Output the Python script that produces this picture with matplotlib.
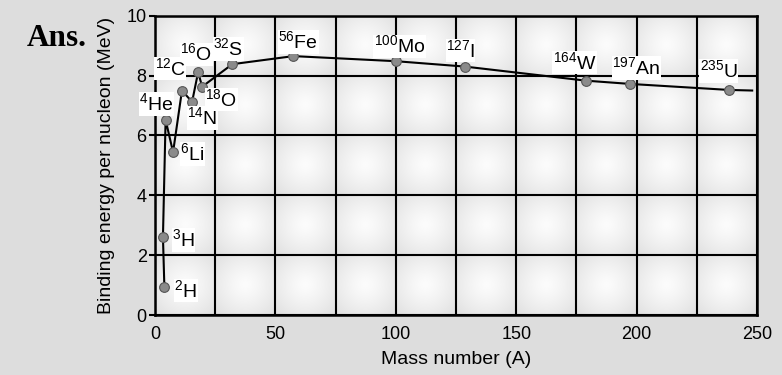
import numpy as np
import matplotlib.pyplot as plt

# Binding energy per nucleon vs mass number
mass_number = [3.9, 3.3, 4.4, 7.5, 11.2, 15.4, 17.9, 19.6, 32.1, 57.5, 100.0, 128.7, 178.9, 197.4, 238.3]
binding_energy = [0.92, 2.61, 6.52, 5.44, 7.50, 7.12, 8.11, 7.63, 8.38, 8.65, 8.48, 8.30, 7.83, 7.72, 7.52]
mass_labels = ['2', '3', '4', '6', '12', '14', '16', '18', '32', '56', '100', '127', '164', '197', '235']
element_labels = ['H', 'H', 'He', 'Li', 'C', 'N', 'O', 'O', 'S', 'Fe', 'Mo', 'I', 'W', 'An', 'U']

# curve keeps going a little past the last nucleus
tail_x = [248.0]
tail_y = [7.50]

# label placement (pixels from the marker) and anchor side
label_offsets = [(10, -3, 'left'), (9, -3, 'left'), (8, 16, 'right'), (7, -2, 'left'),
                 (4, 22, 'right'), (-5, -16, 'left'), (-18, 18, 'left'), (3, -13, 'left'),
                 (-19, 15, 'left'), (-15, 14, 'left'), (-22, 15, 'left'), (-19, 16, 'left'),
                 (-33, 18, 'left'), (-18, 16, 'left'), (-29, 19, 'left')]

plt.rcParams['font.family'] = ['Liberation Sans', 'DejaVu Sans']

fig = plt.figure(figsize=(7.82, 3.75), dpi=100, facecolor='#dddddd')
ax = fig.add_axes([155 / 782, 1 - 315 / 375, 602 / 782, 299.3 / 375])

# soft radial shading inside each grid cell
nx, ny = 10, 5
res = 60
u = np.linspace(-1, 1, res)
cx, cy = np.meshgrid(u, u)
cell = 0.985 - 0.07 * np.sqrt(cx ** 2 + cy ** 2) ** 1.3
shade = np.tile(cell, (ny, nx))
ax.imshow(shade, extent=(0, 250, 0, 10), cmap='gray', vmin=0, vmax=1,
          aspect='auto', interpolation='bilinear', zorder=0)

ax.set_xlim(0, 250)
ax.set_ylim(0, 10)
ax.set_xticks(np.arange(0, 251, 25))
ax.set_xticklabels(['0', '', '50', '', '100', '', '150', '', '200', '', '250'])
ax.set_yticks(np.arange(0, 11, 2))
ax.grid(True, color='black', linewidth=1.5, zorder=1)
ax.set_axisbelow(False)
for s in ax.spines.values():
    s.set_linewidth(1.8)
    s.set_zorder(5)
ax.tick_params(axis='x', length=0, labelsize=13, pad=8)
ax.tick_params(axis='y', length=4, width=1.5, labelsize=13, pad=2)

ax.plot(mass_number + tail_x, binding_energy + tail_y, color='black', lw=1.5, zorder=3)
ax.plot(mass_number, binding_energy, 'o', ms=7, color='#8a8a8a',
        markeredgecolor='#555555', markeredgewidth=0.8, zorder=4)

# draw labels last-to-first so the crowded light nuclei stay readable
items = list(zip(mass_number, binding_energy, mass_labels, element_labels, label_offsets))
for x, y, m, el, (dx, dy, side) in reversed(items):
    ax.annotate(r'$^{\mathregular{%s}}$%s' % (m, el), (x, y), xytext=(dx, dy),
                textcoords='offset pixels', ha=side, va='center', fontsize=14,
                bbox=dict(facecolor='white', edgecolor='none', pad=0.3), zorder=6)

ax.set_xlabel('Mass number (A)', fontsize=14, labelpad=6)
ax.set_ylabel('Binding energy per nucleon (MeV)', fontsize=14, labelpad=8)

fig.text(27 / 782, 1 - 39 / 375, 'Ans.', fontsize=22.5, fontweight='bold',
         family='Liberation Serif', va='center', ha='left')

fig.savefig('out.png', dpi=100, facecolor=fig.get_facecolor())
